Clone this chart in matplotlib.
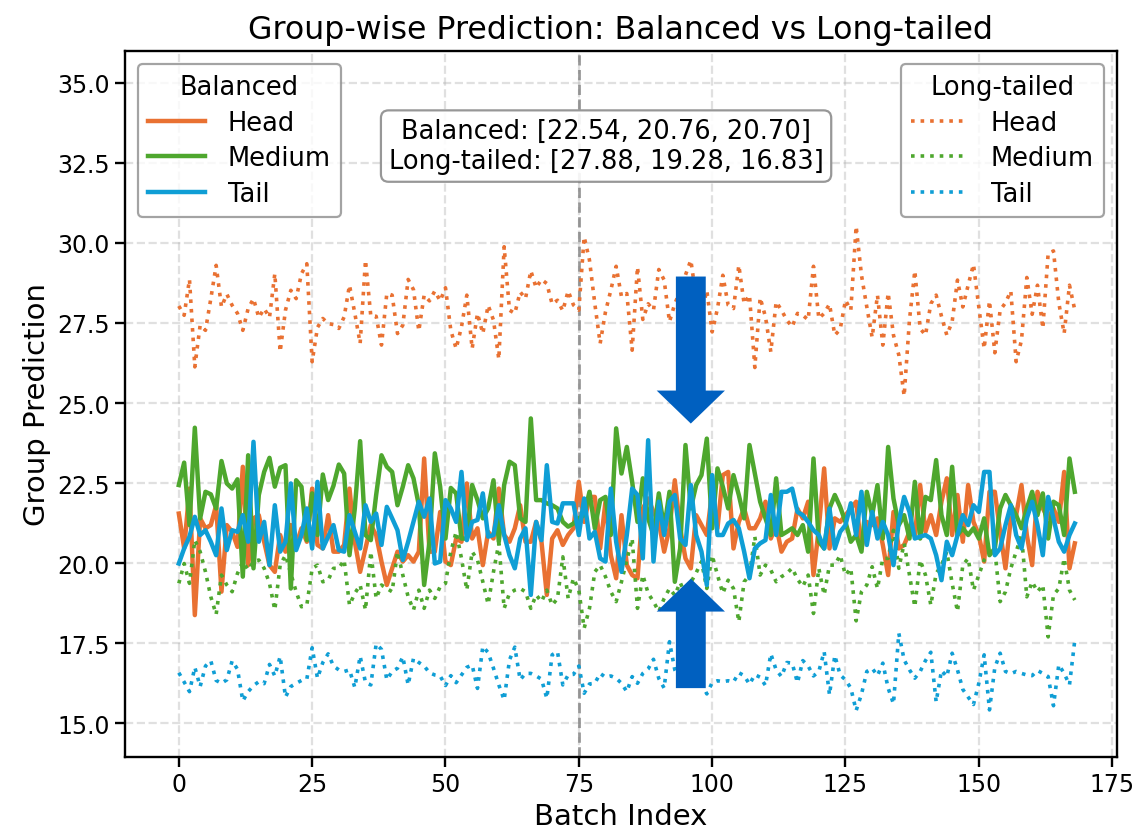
import numpy as np
import matplotlib
matplotlib.use("Agg")
import matplotlib.pyplot as plt

# ---------------- data ----------------
groups = ["Head", "Medium", "Tail"]
colors = ["#E97132", "#4EA72E", "#0F9ED5"]

bal_head = [21.55, 20.46, 22.33, 18.38, 21.40, 21.09, 21.19, 21.81, 19.11, 21.19, 20.98, 20.51, 23.01, 19.94, 21.40, 21.50, 20.67, 19.94, 19.73, 20.88,
            20.36, 21.19, 20.57, 21.09, 20.67, 22.33, 20.57, 20.46, 21.50, 20.36, 20.36, 20.57, 22.33, 20.67, 19.73, 20.46, 21.19, 20.88, 20.05, 19.32,
            19.84, 20.36, 20.05, 20.25, 20.05, 20.36, 23.27, 20.36, 20.36, 21.60, 20.05, 19.94, 20.77, 20.67, 22.49, 20.77, 21.09, 19.94, 20.98,
            20.77, 22.33, 20.88, 20.67, 21.09, 21.81, 20.67, 20.67, 21.29, 20.67, 19.01, 20.77, 21.03, 20.57, 20.88, 21.09, 22.54, 21.29, 22.07, 22.07,
            20.46, 21.92, 20.25, 19.53, 21.50, 19.94, 19.63, 19.53, 21.71, 22.02, 21.60, 21.29, 20.36, 21.09, 22.59, 21.09, 20.15, 19.84, 21.50, 21.19,
            20.88, 22.23, 21.09, 22.75, 22.85, 20.46, 21.29, 21.71, 21.09, 21.09, 21.40, 21.92, 20.77, 21.19, 20.36, 20.67, 20.77, 21.70,
            21.40, 21.92, 19.63, 21.09, 22.96, 20.46, 21.40, 21.29, 21.50, 21.71, 21.92, 20.46, 21.29, 21.19, 21.40, 20.57, 19.63, 21.60, 20.46, 20.57,
            20.98, 20.88, 22.44, 20.98, 21.50, 20.88, 21.92, 22.65, 20.88, 22.13, 20.67, 22.44, 21.29, 20.88, 20.05, 22.23, 22.23, 20.98, 19.84, 21.40,
            21.50, 22.44, 20.88, 19.94, 22.23, 21.71, 21.40, 21.71, 21.29, 22.85, 19.84, 20.62]

bal_medium = [22.44, 23.14, 21.19, 24.23, 21.40, 22.23, 22.15, 21.71, 23.19, 22.49, 22.33, 22.62, 19.58, 23.37, 19.84, 22.13, 22.85, 23.29, 22.39, 22.98,
              23.06, 19.21, 22.59, 22.39, 20.72, 22.18, 20.88, 22.77, 21.97, 22.42, 23.08, 22.80, 20.25, 21.71, 23.81, 20.88, 20.72, 22.13, 23.37, 23.01,
              22.85, 21.81, 22.39, 23.06, 22.65, 21.81, 19.32, 20.67, 23.43, 22.39, 20.77, 22.35, 22.18, 20.77, 20.77, 22.44, 21.97, 21.40, 21.71,
              22.59, 20.67, 22.44, 23.17, 23.06, 21.40, 21.29, 24.52, 21.97, 21.97, 21.87, 21.81, 21.71, 21.29, 21.14, 21.24, 21.40, 21.50, 22.23, 21.09,
              21.97, 22.07, 20.88, 24.21, 22.80, 23.63, 22.54, 21.29, 22.65, 21.40, 20.88, 22.18, 21.09, 22.23, 19.42, 20.46, 23.69, 21.71, 22.44, 22.75,
              23.89, 21.09, 22.96, 22.39, 21.71, 22.75, 22.13, 21.40, 23.69, 22.80, 21.92, 21.40, 20.88, 22.65, 20.88, 20.98, 21.09, 20.88,
              21.19, 20.36, 23.27, 20.67, 20.46, 21.71, 22.13, 21.76, 21.29, 20.67, 20.88, 20.36, 22.23, 21.50, 22.44, 20.77, 23.63, 22.02, 21.19, 21.50,
              20.77, 22.54, 20.77, 22.07, 21.97, 23.22, 21.50, 20.88, 23.01, 20.88, 21.09, 20.88, 21.09, 20.77, 21.40, 20.25, 20.46, 21.71, 22.13, 21.81,
              21.50, 21.09, 21.71, 22.23, 21.50, 22.18, 20.77, 21.92, 21.81, 20.88, 23.27, 22.23]

bal_tail = [19.99, 20.46, 20.83, 21.45, 20.88, 21.03, 20.67, 20.25, 21.71, 20.41, 21.03, 20.98, 21.50, 20.67, 23.79, 20.67, 21.29, 19.94, 21.81, 20.36,
            20.67, 22.49, 20.41, 20.88, 21.71, 20.46, 22.54, 20.46, 20.83, 21.19, 20.41, 20.36, 21.50, 20.98, 20.46, 21.81, 21.29, 21.55, 20.57, 21.76,
            21.40, 21.03, 20.10, 20.67, 21.29, 21.92, 21.45, 22.02, 19.99, 20.05, 21.97, 21.71, 21.29, 22.85, 20.72, 21.29, 21.35, 22.18, 20.83,
            20.88, 21.81, 20.88, 20.25, 19.84, 20.77, 21.09, 19.01, 21.29, 20.72, 23.06, 21.29, 21.24, 21.87, 21.87, 21.87, 20.88, 22.02, 20.77, 20.98,
            20.15, 20.05, 22.33, 20.67, 19.73, 20.88, 22.33, 22.13, 20.15, 23.84, 20.05, 21.92, 20.88, 21.92, 22.13, 20.77, 20.57, 22.44, 20.88, 20.36,
            19.32, 22.75, 20.88, 20.88, 21.24, 21.35, 21.09, 20.36, 19.53, 20.46, 20.62, 20.72, 22.13, 20.88, 22.23, 22.23, 22.33, 21.60,
            21.50, 21.29, 21.03, 20.88, 20.46, 21.71, 20.46, 20.98, 21.19, 21.87, 20.88, 22.23, 20.57, 21.60, 20.77, 21.29, 20.88, 19.94, 21.29, 22.07,
            21.60, 20.77, 20.83, 20.88, 20.77, 20.25, 19.47, 20.67, 20.25, 20.88, 21.50, 21.19, 21.81, 21.60, 22.85, 22.85, 20.25, 20.46, 21.19, 21.81,
            20.88, 20.46, 21.40, 21.92, 21.19, 20.25, 22.07, 21.40, 20.67, 20.36, 20.88, 21.24]

lt_head = [28.03, 27.74, 28.86, 26.13, 27.43, 27.27, 28.26, 29.30, 28.00, 28.40, 28.05, 27.80, 27.27, 27.95, 28.26, 27.67, 27.95, 27.67, 29.04, 26.60,
           27.90, 28.52, 28.26, 29.04, 29.35, 26.29, 27.36, 27.64, 27.48, 27.45, 27.33, 27.69, 28.68, 27.80, 26.86, 29.46, 27.71, 27.71, 26.81, 28.42,
           28.37, 27.17, 27.43, 28.86, 28.54, 27.25, 28.37, 28.19, 28.50, 28.19, 28.60, 27.27, 26.70, 27.38, 28.37, 26.70, 27.80, 27.17, 28.05,
           27.59, 26.37, 29.88, 27.90, 27.80, 28.47, 28.26, 29.13, 28.60, 28.86, 28.73, 28.09, 28.21, 27.88, 28.50, 28.06, 27.90, 30.19, 29.46, 28.10,
           26.86, 27.85, 28.52, 29.27, 28.32, 28.42, 26.65, 29.25, 27.61, 28.10, 27.90, 29.17, 28.84, 27.54, 28.10, 28.50, 29.00, 29.46, 28.30, 27.80,
           28.52, 27.22, 27.95, 28.99, 28.06, 27.95, 29.30, 28.10, 28.37, 26.11, 28.29, 27.69, 26.60, 28.16, 27.90, 27.59, 27.38, 27.80,
           27.74, 27.60, 29.27, 27.64, 27.80, 28.09, 27.12, 27.30, 28.21, 27.90, 30.52, 28.99, 28.00, 27.05, 28.37, 26.81, 28.44, 27.12, 26.50, 25.22,
           27.60, 29.13, 27.33, 27.12, 28.10, 28.37, 27.71, 27.12, 27.54, 28.84, 28.00, 28.68, 29.33, 28.00, 26.70, 28.19, 26.57, 27.90, 28.13, 28.50,
           26.29, 26.96, 28.92, 27.77, 28.68, 27.33, 29.67, 29.75, 28.13, 27.17, 28.68, 27.90]

lt_medium = [19.37, 19.99, 19.37, 20.72, 20.36, 19.73, 18.95, 18.40, 19.63, 19.32, 19.11, 19.68, 20.05, 19.79, 20.05, 20.10, 19.84, 19.37, 18.54, 19.94,
             20.25, 19.68, 19.11, 18.64, 18.69, 19.84, 19.94, 19.42, 19.47, 19.84, 19.84, 20.10, 18.69, 19.06, 19.32, 18.54, 20.36, 18.90, 19.32, 19.21,
             19.11, 20.36, 19.63, 18.95, 18.54, 19.16, 18.59, 19.16, 18.90, 19.27, 19.37, 20.36, 20.98, 20.15, 19.16, 20.36, 20.10, 19.42, 18.72,
             19.73, 20.62, 18.59, 19.06, 19.16, 19.21, 19.11, 18.59, 19.01, 18.80, 19.16, 18.69, 18.90, 20.20, 18.90, 19.53, 19.16, 17.97, 18.59, 19.73,
             19.94, 19.58, 19.11, 18.80, 19.42, 20.10, 20.77, 18.59, 19.63, 19.06, 18.80, 18.49, 18.90, 19.21, 19.00, 19.40, 19.00, 19.40, 19.70, 20.05,
             19.21, 20.25, 19.63, 19.06, 19.47, 19.21, 18.17, 19.42, 19.63, 20.83, 19.63, 19.94, 19.79, 19.42, 19.58, 19.68, 19.85, 19.50,
             19.27, 19.63, 18.43, 19.84, 19.01, 19.94, 19.94, 20.25, 19.63, 19.84, 18.20, 19.11, 19.32, 19.89, 19.21, 20.15, 20.15, 21.03, 19.84, 20.62,
             19.63, 18.64, 20.10, 19.63, 18.69, 19.68, 19.94, 20.36, 19.37, 18.49, 19.94, 20.15, 19.16, 19.63, 20.10, 20.31, 20.41, 18.80, 19.11, 19.84,
             20.36, 20.88, 18.95, 19.42, 19.11, 19.32, 17.70, 19.01, 19.21, 20.15, 19.16, 18.85]

lt_tail = [16.58, 16.29, 15.99, 16.75, 16.15, 16.79, 16.95, 16.34, 16.25, 16.36, 16.95, 16.69, 15.70, 15.99, 16.18, 16.30, 16.24, 16.84, 16.48, 17.09,
           15.82, 16.15, 16.25, 16.34, 16.38, 17.36, 16.41, 16.90, 17.17, 16.79, 16.67, 16.62, 16.67, 16.12, 17.10, 16.27, 16.20, 17.48, 17.31, 16.36,
           16.62, 16.72, 17.08, 16.20, 17.03, 16.90, 16.79, 16.58, 16.51, 16.48, 16.18, 16.49, 16.27, 16.51, 16.75, 16.82, 16.09, 17.40, 17.21,
           16.72, 16.20, 15.73, 16.98, 17.38, 16.36, 16.56, 16.56, 16.48, 16.38, 15.78, 17.14, 17.24, 16.20, 16.51, 16.53, 16.79, 15.94, 16.23, 16.25,
           16.56, 16.44, 16.48, 16.41, 16.25, 15.99, 16.46, 16.25, 16.56, 16.70, 17.00, 16.40, 16.10, 17.55, 16.67, 16.36, 16.56, 16.46, 16.77, 16.25,
           15.92, 16.27, 16.33, 16.30, 16.33, 16.29, 16.58, 16.49, 16.22, 16.52, 16.44, 16.18, 17.17, 16.67, 16.46, 16.90, 16.88, 16.27,
           16.96, 16.79, 16.48, 16.62, 17.24, 15.89, 17.12, 16.51, 16.36, 16.10, 15.40, 15.91, 16.62, 16.72, 16.49, 16.88, 16.10, 15.61, 17.81, 16.98,
           16.67, 16.41, 16.62, 16.96, 17.22, 15.67, 16.65, 16.46, 17.19, 16.67, 16.06, 15.82, 15.59, 16.25, 17.14, 15.42, 16.74, 17.19, 16.62, 16.55,
           16.62, 16.56, 16.51, 16.49, 16.65, 16.56, 16.46, 15.55, 16.83, 16.56, 16.20, 17.60]

balanced = [bal_head, bal_medium, bal_tail]
longtailed = [lt_head, lt_medium, lt_tail]

summary_text = "Balanced: [22.54, 20.76, 20.70]\nLong-tailed: [27.88, 19.28, 16.83]"
split_x = 75
arrow_x = 96
down_arrow = (28.95, 24.36)
up_arrow = (16.10, 19.52)

# ---------------- figure ----------------
plt.rcParams['font.family'] = ['DejaVu Sans']
plt.rcParams['xtick.labelsize'] = 17
plt.rcParams['ytick.labelsize'] = 17
fig = plt.figure(figsize=(11.38, 8.37), dpi=100)
ax = fig.add_axes([0.1098, 0.0944, 0.8717, 0.8438])

bal_lines = []
lt_lines = []
for name, col, b, l in zip(groups, colors, balanced, longtailed):
    lb, = ax.plot(np.arange(len(b)), b, color=col, lw=3.2, linestyle='-', label=name, zorder=3)
    ll, = ax.plot(np.arange(len(l)), l, color=col, lw=2.6, linestyle=':', label=name, zorder=3)
    bal_lines.append(lb)
    lt_lines.append(ll)

ax.axvline(split_x, color='gray', linestyle='--', lw=2.0, alpha=0.8, zorder=2)

arrow_color = '#0060C0'
ax.arrow(arrow_x, down_arrow[0], 0, down_arrow[1] - down_arrow[0], width=5.6, head_width=12.8,
         head_length=1.03, length_includes_head=True, color=arrow_color, zorder=6, lw=0)
ax.arrow(arrow_x, up_arrow[0], 0, up_arrow[1] - up_arrow[0], width=5.6, head_width=12.8,
         head_length=1.03, length_includes_head=True, color=arrow_color, zorder=6, lw=0)

ax.set_xlim(-10.1, 175.9)
ax.set_ylim(13.95, 36.0)
ax.set_xticks(np.arange(0, 176, 25))
ax.set_yticks(np.arange(15, 35.1, 2.5))
ax.yaxis.set_major_formatter(matplotlib.ticker.FormatStrFormatter('%.1f'))
ax.grid(True, linestyle='--', lw=1.6, color='#b0b0b0', alpha=0.38, zorder=0)
ax.set_axisbelow(True)

ax.tick_params(axis='both', which='major', labelsize=17, length=7, width=1.7, pad=4)
for s in ax.spines.values():
    s.set_linewidth(1.7)

ax.set_title("Group-wise Prediction: Balanced vs Long-tailed", fontsize=22.8, pad=9)
ax.set_xlabel("Batch Index", fontsize=21)
ax.set_ylabel("Group Prediction", fontsize=21)

leg_kw = dict(fontsize=18.5, title_fontsize=18.5, edgecolor='0.55', framealpha=0.8,
              labelspacing=0.38, handlelength=2.2, handletextpad=0.9)
leg1 = ax.legend(handles=bal_lines, labels=groups, title="Balanced", loc='upper left', **leg_kw)
leg1.get_frame().set_linewidth(1.6)
ax.add_artist(leg1)
leg2 = ax.legend(handles=lt_lines, labels=groups, title="Long-tailed", loc='upper right', **leg_kw)
leg2.get_frame().set_linewidth(1.6)

ax.text(0.485, 0.865, summary_text, transform=ax.transAxes, ha='center', va='center',
        fontsize=18.5, zorder=7,
        bbox=dict(boxstyle='round,pad=0.3', facecolor='white', edgecolor='0.55', lw=1.6, alpha=0.9))

fig.savefig("out.png", dpi=100)
